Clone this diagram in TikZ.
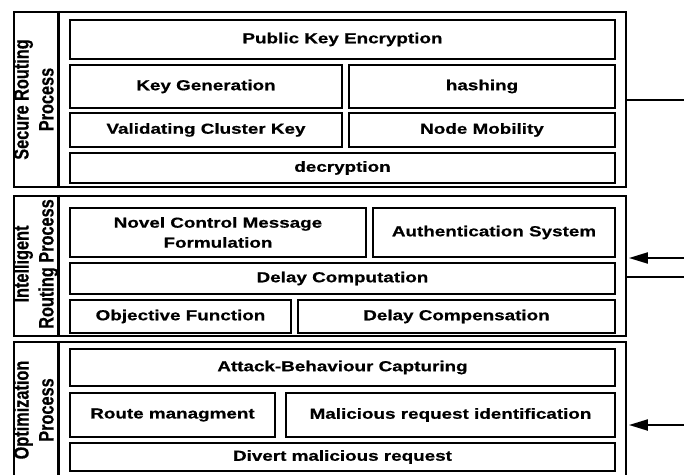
\documentclass[tikz,border=0pt]{standalone}
\usepackage{fontspec}
\usepackage{graphicx}
\usetikzlibrary{arrows.meta}
\newfontfamily\cellfont{Liberation Sans}[FakeStretch=1.3, BoldFeatures={FakeBold=0.6}]
\newfontfamily\sidefont{Liberation Sans}[BoldFeatures={FakeBold=0.6}]

\tikzset{
  cell/.style={draw, line width=2.5pt, inner sep=0pt, align=center,
    font=\cellfont\bfseries\fontsize{14.5}{20}\selectfont},
  groupbox/.style={draw, line width=2.8pt, inner sep=0pt},
  divider/.style={line width=2.8pt},
  sidelabel/.style={rotate=90, inner sep=0pt,
    font=\sidefont\bfseries\fontsize{16.3}{19.5}\selectfont},
  link/.style={line width=2pt},
  inlink/.style={link, -{Triangle[length=19pt,width=11pt]}}
}
\newcommand{\sidetext}[1]{\scalebox{1}[1.28]{\begin{tabular}{@{}c@{}}#1\end{tabular}}}

\begin{document}
\begin{tikzpicture}[x=1pt,y=-1pt]
\useasboundingbox (0,0) rectangle (684,474);
\clip (0,0) rectangle (684,474);

% group frames
\node[groupbox, minimum width=612pt, minimum height=175pt] (g1) at (320,99.5) {};
\node[groupbox, minimum width=612pt, minimum height=140pt] (g2) at (320,266) {};
\node[groupbox, minimum width=612pt, minimum height=134pt] (g3) at (320,409) {};
\foreach \g in {g1,g2,g3}
  \draw[divider] ([xshift=46pt]\g.north west) -- ([xshift=46pt]\g.south west);

% side titles
\node[sidelabel] (t1) at (36,99.5) {\sidetext{Secure Routing\\Process}};
\node[sidelabel] (t2) at (36,264) {\sidetext{Intelligent\\Routing Process}};
\node[sidelabel] (t3) at (36,410) {\sidetext{Optimization\\Process}};

% secure routing process
\node[cell, minimum width=545pt, minimum height=39pt] (pke) at (342.5,39.5) {Public Key Encryption};
\node[cell, minimum width=272pt, minimum height=43pt] (keygen) at (206,86.5) {Key Generation};
\node[cell, minimum width=266pt, minimum height=43pt] (hash) at (482,86.5) {hashing};
\node[cell, minimum width=272pt, minimum height=34pt] (vck) at (206,130) {Validating Cluster Key};
\node[cell, minimum width=266pt, minimum height=34pt] (mob) at (482,130) {Node Mobility};
\node[cell, minimum width=545pt, minimum height=30pt] (dec) at (342.5,168) {decryption};

% intelligent routing process
\node[cell, minimum width=296pt, minimum height=49pt] (ncm) at (218,232.5) {Novel Control Message\\Formulation};
\node[cell, minimum width=242pt, minimum height=49pt] (auth) at (494,232.5) {Authentication System};
\node[cell, minimum width=545pt, minimum height=31pt] (dcomp) at (342.5,278.5) {Delay Computation};
\node[cell, minimum width=221pt, minimum height=33pt] (obj) at (180.5,316.5) {Objective Function};
\node[cell, minimum width=317pt, minimum height=33pt] (dcomb) at (456.5,316.5) {Delay Compensation};

% optimization process
\node[cell, minimum width=545pt, minimum height=37pt] (abc) at (342.5,367.5) {Attack-Behaviour Capturing};
\node[cell, minimum width=205pt, minimum height=44pt] (route) at (172.5,415) {Route managment};
\node[cell, minimum width=329pt, minimum height=44pt] (mri) at (450.5,415) {Malicious request identification};
\node[cell, minimum width=545pt, minimum height=28pt] (div) at (342.5,457) {Divert malicious request};

% connectors on the right
\coordinate (r1) at (684,100);
\coordinate (r2) at (684,258);
\coordinate (r3) at (684,277);
\coordinate (r4) at (684,425);
\draw[link] (r1 -| g1.east) -- (r1);
\draw[inlink] (r2) -- ([xshift=1.5pt]r2 -| g2.east);
\draw[link] (r3 -| g2.east) -- (r3);
\draw[inlink] (r4) -- ([xshift=1.5pt]r4 -| g3.east);
\end{tikzpicture}
\end{document}
